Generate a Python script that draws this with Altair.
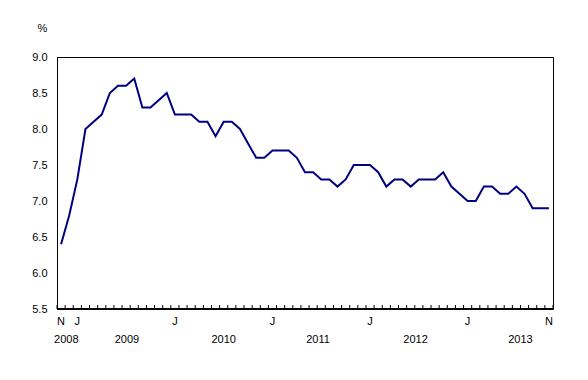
import altair as alt
import pandas as pd

# Monthly values, November 2008 to November 2013
values = [6.4, 6.8, 7.3, 8.0, 8.1, 8.2, 8.5, 8.6, 8.6, 8.7,
          8.3, 8.3, 8.4, 8.5, 8.2, 8.2, 8.2, 8.1, 8.1, 7.9,
          8.1, 8.1, 8.0, 7.8, 7.6, 7.6, 7.7, 7.7, 7.7, 7.6,
          7.4, 7.4, 7.3, 7.3, 7.2, 7.3, 7.5, 7.5, 7.5, 7.4,
          7.2, 7.3, 7.3, 7.2, 7.3, 7.3, 7.3, 7.4, 7.2, 7.1,
          7.0, 7.0, 7.2, 7.2, 7.1, 7.1, 7.2, 7.1, 6.9, 6.9,
          6.9]
month_labels = ["N", "J", "J", "J", "J", "J", "N"]
month_label_idx = [0, 2, 14, 26, 38, 50, 60]
year_labels = ["2008", "2009", "2010", "2011", "2012", "2013"]
year_label_pos = [0.65, 8.1, 20.0, 31.6, 43.6, 56.5]
y_ticks = [5.5, 6.0, 6.5, 7.0, 7.5, 8.0, 8.5, 9.0]

n = len(values)
df = pd.DataFrame({"i": list(range(n)), "v": values})
tick_df = pd.DataFrame({"t": [k + 0.5 for k in range(-1, n)]})
mdf = pd.DataFrame({"i": month_label_idx, "lab": month_labels})
ydf = pd.DataFrame({"i": year_label_pos, "lab": year_labels})

FONT = "Liberation Sans"
W, H = 496, 252

xscale = alt.Scale(domain=[-0.5, n - 0.5], nice=False, zero=False)
yscale = alt.Scale(domain=[5.5, 9.0], nice=False, zero=False)

line = alt.Chart(df).mark_line(color="#000080", strokeWidth=2).encode(
    x=alt.X("i:Q", scale=xscale, axis=None),
    y=alt.Y("v:Q", scale=yscale,
            axis=alt.Axis(values=y_ticks, format=".1f", tickSize=0,
                          labelPadding=10, labelFont=FONT, labelFontSize=11,
                          labelColor="black", domainColor="black", grid=False,
                          title="%", titleAngle=0, titleX=-15, titleY=-29,
                          titleAlign="center", titleBaseline="middle",
                          titleFont=FONT, titleFontSize=11, titleFontWeight="normal",
                          titleColor="black")),
)

ticks = alt.Chart(tick_df).mark_rule(color="black", strokeWidth=1).encode(
    x=alt.X("t:Q", scale=xscale, axis=None),
    y=alt.value(H - 4),
    y2=alt.value(H),
)

bottom = alt.Chart(tick_df).mark_rule(color="black", strokeWidth=1).encode(
    x=alt.value(0), x2=alt.value(W), y=alt.value(H)
)

mlab = alt.Chart(mdf).mark_text(font=FONT, fontSize=11, color="black",
                                baseline="middle", align="center").encode(
    x=alt.X("i:Q", scale=xscale, axis=None),
    y=alt.value(265),
    text="lab:N",
)

ylab = alt.Chart(ydf).mark_text(font=FONT, fontSize=11, color="black",
                                baseline="middle", align="center").encode(
    x=alt.X("i:Q", scale=xscale, axis=None),
    y=alt.value(283),
    text="lab:N",
)

chart = alt.layer(line, ticks, bottom, mlab, ylab).properties(
    width=W, height=H,
    background="white",
    autosize=alt.AutoSizeParams(type="none"),
    padding={"left": 49, "top": 49, "right": 20, "bottom": 50},
).configure_view(stroke="black", strokeWidth=1)

chart.save("out.html", embed_options={"renderer": "svg", "actions": False})
